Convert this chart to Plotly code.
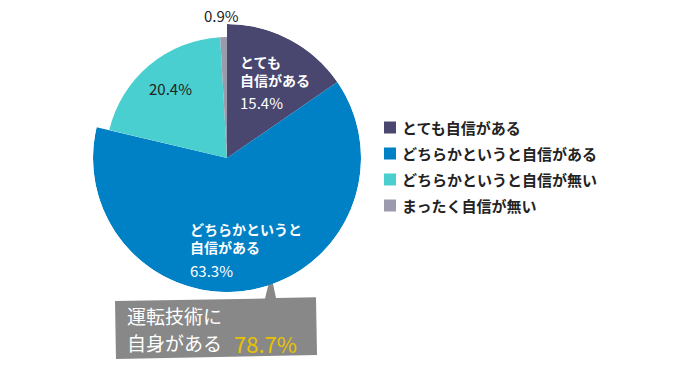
import plotly.graph_objects as go

# ---- data ----
categories = ["とても自信がある", "どちらかというと自信がある", "どちらかというと自信が無い", "まったく自信が無い"]
percent = [15.4, 63.3, 20.4, 0.9]
confident_total = 78.7

# ---- styles ----
colors = ["#49466F", "#0080C5", "#49CFCF", "#9B9BAD"]
radius = [134, 134, 121, 121]
FONT = "Noto Sans CJK JP"

W, H = 700, 370
cx, cy, R = 227, 158, 134

fig = go.Figure()
cum = 0.0
for cat, p, c, r in zip(categories, percent, colors, radius):
    mid = (cum + p / 2) * 3.6
    fig.add_trace(go.Barpolar(
        r=[r], theta=[mid], width=[p * 3.6], base=0,
        marker=dict(color=c, line=dict(width=0)),
        name=cat, hoverinfo="name", showlegend=False,
    ))
    cum += p

fig.update_layout(
    width=W, height=H,
    margin=dict(l=0, r=0, t=0, b=0),
    paper_bgcolor="white", plot_bgcolor="white",
    font=dict(family=FONT, color="#222222"),
    polar=dict(
        domain=dict(x=[(cx - R) / W, (cx + R) / W], y=[(H - cy - R) / H, (H - cy + R) / H]),
        bgcolor="rgba(0,0,0,0)",
        bargap=0,
        radialaxis=dict(visible=False, range=[0, R]),
        angularaxis=dict(visible=False, direction="clockwise", rotation=90),
    ),
    showlegend=False,
)

def px(x):
    return x / W

def py(y):
    return 1 - y / H

anns = []
def add(text, x, y, size=14, color="#222222", xanchor="left"):
    anns.append(dict(text=text, x=px(x), y=py(y), xref="paper", yref="paper",
                     xanchor=xanchor, yanchor="middle", showarrow=False, borderpad=0,
                     font=dict(size=size, color=color, family=FONT), align="left"))

add("%.1f%%" % percent[3], 221, 15, size=15, xanchor="center")
add("<b>とても<br>自信がある</b>", 239, 71, color="white")
add("%.1f%%" % percent[0], 239, 102, size=15, color="white")
add("%.1f%%" % percent[2], 170, 88, size=15, xanchor="center")
add("<b>どちらかというと<br>自信がある</b>", 189, 238, color="white")
add("%.1f%%" % percent[1], 189, 270, size=15, color="white")
add("運転技術に", 126, 315, size=19, color="white")
add("自身がある", 126, 342, size=19, color="white")
add("%.1f%%" % confident_total, 233, 343, size=22, color="#E8C200")

# manual legend
legend_y = [127.5, 153.5, 179.5, 205.5]
shapes = []
for cat, c, ly in zip(categories, colors, legend_y):
    shapes.append(dict(type="rect", xref="paper", yref="paper",
                       x0=px(384), x1=px(396), y0=py(ly - 6), y1=py(ly + 6),
                       fillcolor=c, line=dict(width=0)))
    add("<b>%s</b>" % cat, 401, ly, size=15, color="#222222")

# callout box with pointer
pts = [(115, 301), (265, 298.5), (271, 274), (276, 298), (316, 297.3), (317, 355), (116, 359)]
path = "M " + " L ".join("%.4f,%.4f" % (px(x), py(y)) for x, y in pts) + " Z"
shapes.append(dict(type="path", path=path, xref="paper", yref="paper",
                   fillcolor="#888888", line=dict(width=0), layer="below"))

fig.update_layout(annotations=anns, shapes=shapes)

fig.write_html("out.html", config={"displayModeBar": False},
               post_script="document.body.style.margin='0';document.body.style.overflow='hidden';")
